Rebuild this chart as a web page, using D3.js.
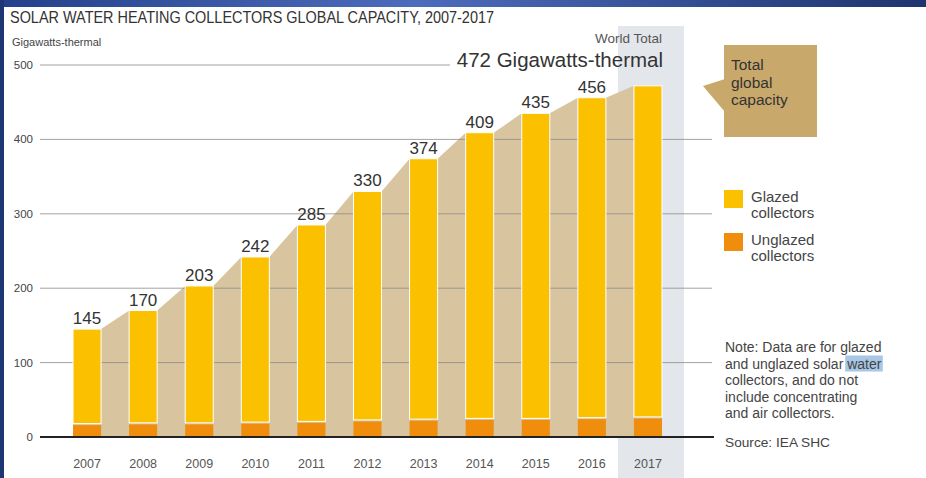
<!DOCTYPE html>
<html lang="en">
<head>
  <meta charset="UTF-8">
  <title>Solar water heating collectors global capacity</title>
  <script src="https://d3js.org/d3.v7.min.js"></script>
  <style>
    body { margin: 0; overflow: hidden; background: #fff; }
    svg { display: block; font-family: "Liberation Sans", Arial, sans-serif; }
  </style>
</head>
<body>
  <svg width="926" height="478"></svg>

  <script>
    const years = ['2007','2008','2009','2010','2011','2012','2013','2014','2015','2016','2017'];
    const totals = [145, 170, 203, 242, 285, 330, 374, 409, 435, 456, 472];
    const unglazed = [18, 19, 19, 20, 21, 23, 24, 25, 25, 26, 27];
    const yTicks = [0, 100, 200, 300, 400, 500];
    const noteLines = ['Note: Data are for glazed', 'and unglazed solar ', 'collectors, and do not',
                       'include concentrating', 'and air collectors.'];

    const svg = d3.select('svg');

    // frame bits from the screenshot
    const grad = svg.append('defs').append('linearGradient').attr('id', 'band');
    grad.append('stop').attr('offset', '0%').attr('stop-color', '#24408a');
    grad.append('stop').attr('offset', '45%').attr('stop-color', '#4d6cbc');
    grad.append('stop').attr('offset', '100%').attr('stop-color', '#1e346f');
    svg.append('rect').attr('x', 0).attr('y', 0).attr('width', 926).attr('height', 7).attr('fill', 'url(#band)');
    svg.append('rect').attr('x', 0).attr('y', 0).attr('width', 4).attr('height', 478).attr('fill', '#1f3674');

    const x = d3.scaleBand().domain(years).range([59, 676]).paddingInner(0.5).paddingOuter(0.25);
    const y = d3.scaleLinear().domain([0, 500]).range([437, 65]);
    const bw = x.bandwidth();

    // 2017 highlight column
    svg.append('rect')
      .attr('x', x('2017') - 16).attr('y', 26)
      .attr('width', bw + 38).attr('height', 478 - 26)
      .attr('fill', '#e3e6eb');

    // total capacity area behind bars
    const pts = [];
    years.forEach((yr, i) => {
      pts.push([x(yr), totals[i]]);
      pts.push([x(yr) + bw, totals[i]]);
    });
    svg.append('path')
      .datum(pts)
      .attr('fill', '#d8c5a0')
      .attr('d', d3.area().x(d => d[0]).y0(y(0)).y1(d => y(d[1])));

    // gridlines
    const grid = svg.append('g');
    yTicks.filter(t => t > 0).forEach(t => {
      grid.append('line')
        .attr('x1', 40).attr('x2', t === 500 ? 450 : 712)
        .attr('y1', y(t)).attr('y2', y(t))
        .attr('stroke', '#8a8a8a').attr('stroke-width', 0.8);
    });
    grid.selectAll('text').data(yTicks).join('text')
      .attr('x', 33).attr('y', d => y(d) + 4)
      .attr('text-anchor', 'end')
      .attr('font-size', 11.5).attr('fill', '#444')
      .text(d => d);

    // stacked bars
    const bars = svg.append('g');
    bars.selectAll('.glazed').data(years).join('rect')
      .attr('class', 'glazed')
      .attr('x', d => x(d)).attr('width', bw)
      .attr('y', (d, i) => y(totals[i]))
      .attr('height', (d, i) => y(unglazed[i]) - y(totals[i]))
      .attr('fill', '#fbc000').attr('stroke', '#fff').attr('stroke-width', 1);
    bars.selectAll('.unglazed').data(years).join('rect')
      .attr('class', 'unglazed')
      .attr('x', d => x(d)).attr('width', bw)
      .attr('y', (d, i) => y(unglazed[i]) + 1.5)
      .attr('height', (d, i) => y(0) - y(unglazed[i]) - 2.5)
      .attr('fill', '#f08d0c');

    // value labels
    svg.append('g').selectAll('text').data(years.slice(0, -1)).join('text')
      .attr('x', d => x(d) + bw / 2)
      .attr('y', (d, i) => y(totals[i]) - 5)
      .attr('text-anchor', 'middle')
      .attr('font-size', 17).attr('fill', '#333')
      .text((d, i) => totals[i]);

    // baseline + x axis
    svg.append('line')
      .attr('x1', 40).attr('x2', 714).attr('y1', y(0)).attr('y2', y(0))
      .attr('stroke', '#222').attr('stroke-width', 2);
    const xAxis = svg.append('g').attr('transform', `translate(0,${y(0)})`)
      .call(d3.axisBottom(x).tickSize(0).tickPadding(22));
    xAxis.select('.domain').remove();
    xAxis.selectAll('text').attr('font-size', 12.5).attr('fill', '#555')
      .attr('font-family', '"Liberation Sans", Arial, sans-serif');

    // world total
    svg.append('text').attr('x', 662).attr('y', 43).attr('text-anchor', 'end')
      .attr('font-size', 13.5).attr('fill', '#555').text('World Total');
    svg.append('text').attr('x', 663).attr('y', 67).attr('text-anchor', 'end')
      .attr('font-size', 20.5).attr('fill', '#333').text(totals[totals.length - 1] + ' Gigawatts-thermal');

    // title
    svg.append('text').attr('x', 10).attr('y', 23)
      .attr('font-family', '"Liberation Sans Narrow", "Liberation Sans", sans-serif')
      .attr('font-size', 17).attr('fill', '#333')
      .attr('textLength', 484).attr('lengthAdjust', 'spacingAndGlyphs')
      .text('SOLAR WATER HEATING COLLECTORS GLOBAL CAPACITY, 2007-2017');
    svg.append('text').attr('x', 12).attr('y', 46)
      .attr('font-size', 11).attr('fill', '#444').text('Gigawatts-thermal');

    // callout
    svg.append('path').attr('d', 'M703,86 L725,79 L725,112 Z').attr('fill', '#c9a96b');
    svg.append('rect').attr('x', 724).attr('y', 45).attr('width', 93).attr('height', 92).attr('fill', '#c9a96b');
    svg.append('g').selectAll('text').data(['Total', 'global', 'capacity']).join('text')
      .attr('x', 731).attr('y', (d, i) => 70 + i * 17.5)
      .attr('font-size', 15.5).attr('fill', '#333').text(d => d);

    // legend
    const legend = [
      { label: ['Glazed', 'collectors'], color: '#fbc000', y: 190 },
      { label: ['Unglazed', 'collectors'], color: '#f08d0c', y: 233 }
    ];
    legend.forEach(l => {
      svg.append('rect').attr('x', 724).attr('y', l.y).attr('width', 19).attr('height', 18).attr('fill', l.color);
      l.label.forEach((t, i) => {
        svg.append('text').attr('x', 751).attr('y', l.y + 12 + i * 16)
          .attr('font-size', 15).attr('fill', '#444').text(t);
      });
    });

    // note
    const note = svg.append('g');
    noteLines.forEach((t, i) => {
      const tx = note.append('text').attr('x', 725).attr('y', 352 + i * 16.5)
        .attr('font-size', 14).attr('fill', '#444').text(t);
      if (i === 1) {
        const w = tx.append('tspan').text('water');
        const bb = w.node().getBBox();
        note.insert('rect', 'text').attr('x', bb.x - 1).attr('y', bb.y)
          .attr('width', bb.width + 2).attr('height', bb.height).attr('fill', '#a8c6e6');
      }
    });
    svg.append('text').attr('x', 725).attr('y', 447)
      .attr('font-size', 13.7).attr('fill', '#444').text('Source: IEA SHC');
  </script>
</body>
</html>
